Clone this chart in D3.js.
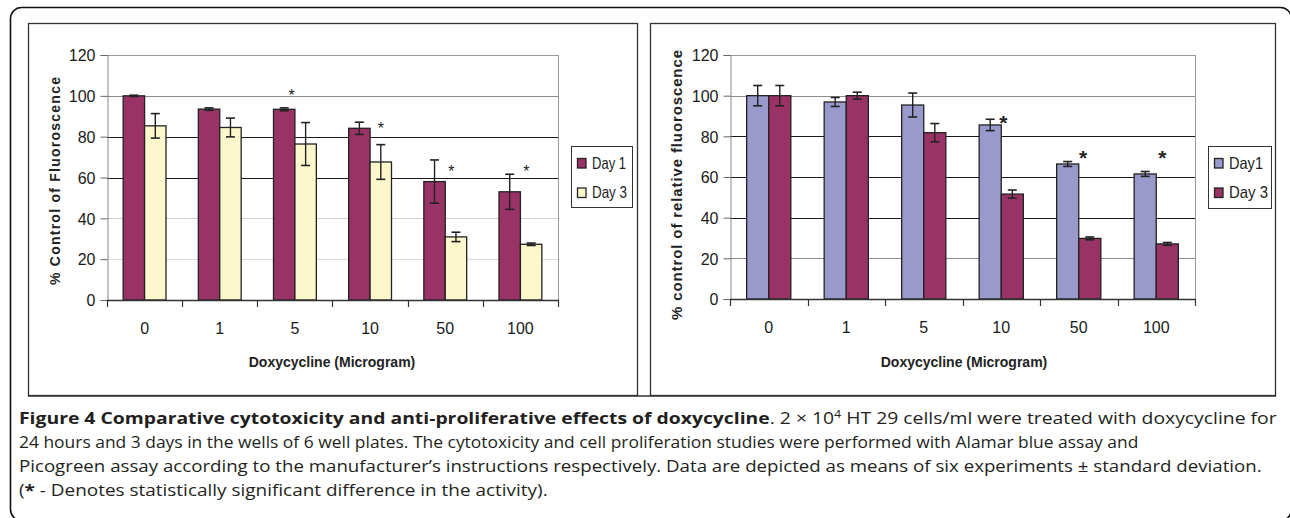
<!DOCTYPE html>
<html><head><meta charset="utf-8">
<script src="https://cdn.jsdelivr.net/npm/d3@7"></script>
<style>
html,body{margin:0;padding:0;background:#fff;}
svg{display:block;}
</style></head>
<body>
<svg id="chart" width="1290" height="518"></svg>
<script>
// ---------- data ----------
const categories = ["0", "1", "5", "10", "50", "100"];
const yTicks = [0, 20, 40, 60, 80, 100, 120];

// Left panel (cytotoxicity, Alamar blue)
const leftSeriesNames = ["Day 1", "Day 3"];
const leftDay1 = [100, 93.5, 93.4, 84.1, 58.0, 53.0];
const leftDay1Err = [0.3, 0.6, 0.7, 3.0, 10.6, 8.6];
const leftDay3 = [85.3, 84.5, 76.4, 67.6, 30.9, 27.3];
const leftDay3Err = [6.0, 4.6, 10.5, 8.5, 2.3, 0.6];
const leftStarCats = ["5", "10", "50", "100"];
const leftStarVals = [102, 85.7, 64.6, 64.6];
const leftStarShift = [-0.15, 0.5, 0.28, 0.28];   // in bar widths from category centre

// Right panel (proliferation, Picogreen)
const rightSeriesNames = ["Day1", "Day 3"];
const rightDay1 = [100, 96.9, 95.4, 85.6, 66.4, 61.5];
const rightDay1Err = [5.0, 2.2, 5.9, 2.8, 1.2, 1.2];
const rightDay3 = [100, 100, 81.8, 51.6, 29.8, 27.1];
const rightDay3Err = [5.0, 1.7, 4.5, 2.0, 0.7, 0.7];
const rightStarCats = ["10", "50", "100"];
const rightStarVals = [89, 71.8, 71.8];
const rightStarShift = [0.1, 0.2, 0.28];

const xTitle = "Doxycycline (Microgram)";
const leftYTitle = "% Control of Fluoroscence";
const rightYTitle = "% control of relative fluoroscence";

// ---------- drawing ----------
const svg = d3.select("#chart");
const AX_FONT = "'Liberation Sans', Arial, sans-serif";
const MAROON = "#993366", CREAM = "#fcf8cc", LAV = "#9999cc";

// outer rounded frame
svg.append("rect").attr("x", 10.5).attr("y", 7.5).attr("width", 1281).attr("height", 513)
  .attr("rx", 11).attr("fill", "none").attr("stroke", "#111").attr("stroke-width", 1.6);

function panel(cfg) {
  const g = svg.append("g");
  // panel box
  g.append("rect").attr("x", cfg.box[0] + 0.5).attr("y", cfg.box[1] + 0.5)
    .attr("width", cfg.box[2] - cfg.box[0]).attr("height", cfg.box[3] - cfg.box[1])
    .attr("fill", "none").attr("stroke", "#333").attr("stroke-width", 1.3);

  const x = d3.scaleBand().domain(categories).range([cfg.x0, cfg.x1])
    .paddingInner(0.43).paddingOuter(0.215);
  const xs = d3.scaleBand().domain([0, 1]).range([0, x.bandwidth()]);
  const y = d3.scaleLinear().domain([0, 120]).range([cfg.yb, cfg.yt]);

  // gridlines
  g.selectAll(".grid").data(yTicks.filter(t => t > 0)).join("line")
    .attr("x1", cfg.x0).attr("x2", cfg.x1)
    .attr("y1", d => Math.round(y(d)) + 0.5).attr("y2", d => Math.round(y(d)) + 0.5)
    .attr("stroke", d => cfg.gridColors[d]).attr("stroke-width", 1);
  // right border of plot area
  g.append("line").attr("x1", cfg.x1 + 0.5).attr("x2", cfg.x1 + 0.5)
    .attr("y1", y(120)).attr("y2", y(0)).attr("stroke", "#9a9a9a");

  // y axis
  const yAxis = g.append("g").attr("transform", `translate(${cfg.x0 + 0.5},0)`)
    .call(d3.axisLeft(y).tickValues(yTicks).tickSize(7).tickPadding(5).tickFormat(d3.format("d")));
  yAxis.attr("font-size", null).attr("font-family", null);
  yAxis.select(".domain").attr("stroke", "#888");
  yAxis.selectAll(".tick line").attr("stroke", "#666");
  yAxis.selectAll(".tick text").attr("font-family", AX_FONT).style("font-size", "16px")
    .attr("fill", "#1a1a1a").attr("dy", "0.36em");

  // series bars
  const series = [
    { vals: cfg.d1, err: cfg.e1, color: cfg.colors[0] },
    { vals: cfg.d3, err: cfg.e3, color: cfg.colors[1] }
  ];
  series.forEach((s, si) => {
    g.selectAll(".bar" + si).data(categories).join("rect")
      .attr("x", c => x(c) + xs(si)).attr("width", xs.bandwidth())
      .attr("y", (c, i) => y(s.vals[i])).attr("height", (c, i) => y(0) - y(s.vals[i]))
      .attr("fill", s.color).attr("stroke", "#222").attr("stroke-width", 1.3);
  });
  // error bars
  series.forEach((s, si) => {
    const eg = g.selectAll(".err" + si).data(categories).join("g");
    const cx = c => x(c) + xs(si) + xs.bandwidth() / 2;
    eg.append("line").attr("x1", cx).attr("x2", cx)
      .attr("y1", (c, i) => y(s.vals[i] + s.err[i])).attr("y2", (c, i) => y(s.vals[i] - s.err[i]))
      .attr("stroke", "#222").attr("stroke-width", 1.4);
    [1, -1].forEach(sign => {
      eg.append("line").attr("x1", c => cx(c) - 4.5).attr("x2", c => cx(c) + 4.5)
        .attr("y1", (c, i) => y(s.vals[i] + sign * s.err[i])).attr("y2", (c, i) => y(s.vals[i] + sign * s.err[i]))
        .attr("stroke", "#222").attr("stroke-width", 1.6);
    });
  });

  // x axis
  const xa = g.append("g");
  xa.append("line").attr("x1", cfg.x0).attr("x2", cfg.x1 + 1)
    .attr("y1", y(0) + 0.5).attr("y2", y(0) + 0.5).attr("stroke", "#333").attr("stroke-width", 1.3);
  const bounds = categories.map(c => x(c) - x.step() * x.paddingInner() / 2).concat([cfg.x1]);
  xa.selectAll(".xt").data(bounds).join("line")
    .attr("x1", d => Math.round(d) + 0.5).attr("x2", d => Math.round(d) + 0.5)
    .attr("y1", y(0)).attr("y2", y(0) + 7).attr("stroke", "#333").attr("stroke-width", 1.2);
  xa.selectAll(".xl").data(categories).join("text")
    .attr("x", c => x(c) + x.bandwidth() / 2).attr("y", y(0) + 34)
    .attr("text-anchor", "middle").attr("font-family", AX_FONT).style("font-size", "16px")
    .attr("fill", "#1a1a1a").text(c => c);

  // stars
  g.selectAll(".star").data(cfg.starCats).join("text")
    .attr("x", (c, i) => x(c) + x.bandwidth() / 2 + cfg.starShift[i] * xs.bandwidth())
    .attr("y", (c, i) => y(cfg.starVals[i]) + cfg.starDy)
    .attr("text-anchor", "middle").attr("font-family", AX_FONT)
    .attr("font-size", cfg.starSize).attr("font-weight", cfg.starWeight)
    .attr("fill", "#222").text("*");

  // axis titles
  g.append("text").attr("x", (cfg.xTitleX)).attr("y", 367)
    .attr("text-anchor", "middle").attr("font-family", AX_FONT).attr("font-weight", "bold")
    .attr("font-size", 14).attr("fill", "#222").text(xTitle);
  g.append("text").attr("transform", `translate(${cfg.yTitleX},${cfg.yTitleY}) rotate(-90)`)
    .attr("text-anchor", "middle").attr("font-family", AX_FONT).attr("font-weight", "bold")
    .attr("font-size", cfg.yTitleSize).attr("fill", "#222").text(cfg.yTitle)
    .attr("textLength", cfg.yTitleLen).attr("lengthAdjust", "spacing");

  // legend
  const lg = g.append("g");
  lg.append("rect").attr("x", cfg.legend[0] + 0.5).attr("y", cfg.legend[1] + 0.5)
    .attr("width", cfg.legend[2]).attr("height", cfg.legend[3])
    .attr("fill", "#fff").attr("stroke", "#333").attr("stroke-width", 1);
  cfg.names.forEach((n, i) => {
    const yy = cfg.legend[1] + 12 + i * 29.5;
    lg.append("rect").attr("x", cfg.legend[0] + 6.5).attr("y", yy + 0.5).attr("width", 8.5).attr("height", 9.5)
      .attr("fill", cfg.colors[i]).attr("stroke", "#222").attr("stroke-width", 1.3);
    lg.append("text").attr("x", cfg.legend[0] + 21).attr("y", yy + 10.5)
      .attr("font-family", AX_FONT).attr("font-size", 16.5).attr("fill", "#222").text(n)
      .attr("textLength", cfg.legendTextLen[i]).attr("lengthAdjust", "spacingAndGlyphs");
  });
}

panel({
  box: [28, 23, 637, 395], x0: 107, x1: 558, yt: 55, yb: 300,
  d1: leftDay1, e1: leftDay1Err, d3: leftDay3, e3: leftDay3Err,
  colors: [MAROON, CREAM], names: leftSeriesNames,
  gridColors: { 20: "#dcdcdc", 40: "#cfcfcf", 60: "#1a1a1a", 80: "#1a1a1a", 100: "#8c8c8c", 120: "#9a9a9a" },
  starCats: leftStarCats, starVals: leftStarVals, starShift: leftStarShift,
  starSize: 16, starWeight: "normal", starDy: 9,
  xTitleX: 332, yTitleX: 60, yTitleY: 181, yTitle: leftYTitle, yTitleSize: 14, yTitleLen: 208,
  legend: [571, 146, 61, 61], legendTextLen: [34, 35]
});

panel({
  box: [650, 23, 1275, 395], x0: 730, x1: 1195, yt: 55, yb: 299,
  d1: rightDay1, e1: rightDay1Err, d3: rightDay3, e3: rightDay3Err,
  colors: [LAV, MAROON], names: rightSeriesNames,
  gridColors: { 20: "#8a8a8a", 40: "#1a1a1a", 60: "#1a1a1a", 80: "#1a1a1a", 100: "#8c8c8c", 120: "#9a9a9a" },
  starCats: rightStarCats, starVals: rightStarVals, starShift: rightStarShift,
  starSize: 21, starWeight: "bold", starDy: 12,
  xTitleX: 964, yTitleX: 682, yTitleY: 185, yTitle: rightYTitle, yTitleSize: 15, yTitleLen: 270,
  legend: [1208, 146, 63, 62], legendTextLen: [34, 39]
});

// bottom separator line under the panels
svg.append("line").attr("x1", 28).attr("x2", 1276).attr("y1", 396).attr("y2", 396)
  .attr("stroke", "#333").attr("stroke-width", 1.3);

// ---------- caption ----------
const CAP_FONT = "'Open Sans', 'Noto Sans', sans-serif";
const capLines = [
  { parts: [["Figure 4 Comparative cytotoxicity and anti-proliferative effects of doxycycline", "b"],
            [". 2 × 10", "n"], ["4", "sup"], [" HT 29 cells/ml were treated with doxycycline for", "n"]], width: 1259 },
  { parts: [["24 hours and 3 days in the wells of 6 well plates. The cytotoxicity and cell proliferation studies were performed with Alamar blue assay and", "n"]], width: 1120 },
  { parts: [["Picogreen assay according to the manufacturer’s instructions respectively. Data are depicted as means of six experiments ± standard deviation.", "n"]], width: 1243 },
  { parts: [["(", "n"], ["*", "b"], [" - Denotes statistically significant difference in the activity).", "n"]], width: 529 }
];
capLines.forEach((ln, i) => {
  const baseY = 424 + i * 24;
  const t = svg.append("text").attr("x", 19).attr("y", baseY)
    .attr("font-family", CAP_FONT).attr("font-size", 15.5).attr("fill", "#231f20");
  ln.parts.forEach(p => {
    const ts = t.append("tspan").text(p[0]);
    if (p[1] === "b") ts.attr("font-weight", "bold");
    if (p[1] === "sup") ts.attr("font-size", 10).attr("dy", -6);
    if (p[1] === "n" && ts.node().previousSibling && ts.node().previousSibling.textContent === "4") ts.attr("dy", 6);
  });
  const w = t.node().getComputedTextLength();
  const s = ln.width / w;
  t.attr("transform", `translate(19,0) scale(${s},1) translate(-19,0)`);
});
</script>
</body></html>
